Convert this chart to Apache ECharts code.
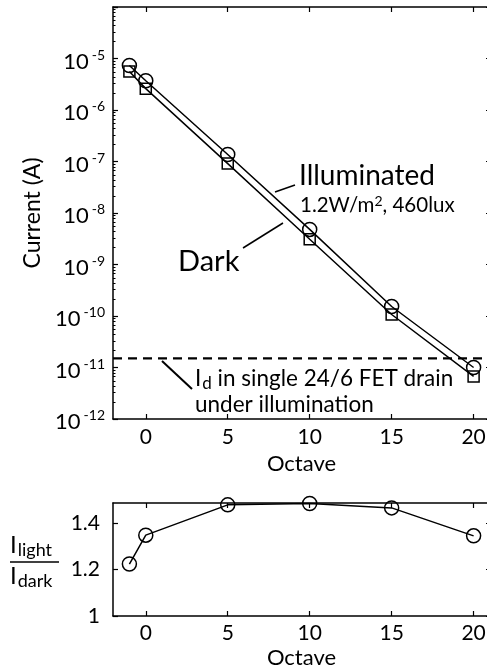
<!DOCTYPE html>
<html>
<head>
<meta charset="utf-8">
<script src="https://cdn.jsdelivr.net/npm/echarts@6/dist/echarts.min.js"></script>
<style>html,body{margin:0;padding:0;background:#fff}#c{width:487px;height:668px}</style>
</head>
<body>
<div id="c"></div>
<script>
const octave = [-1, 0, 5, 10, 15, 20];
const illuminated = [7.3e-6, 3.7e-6, 1.37e-7, 4.8e-9, 1.53e-10, 1.0e-11];
const dark = [5.6e-6, 2.6e-6, 9.1e-8, 3.1e-9, 1.07e-10, 6.7e-12];
const ratio = [1.223, 1.347, 1.477, 1.483, 1.464, 1.344];
const fetDrainOctave = [-2, 21];
const fetDrainLevel = [1.5e-11, 1.5e-11];
const xTicks = [0, 5, 10, 15, 20];
const ratioTicks = [1, 1.2, 1.4];

const FONT = 'Lato';
const chart = echarts.init(document.getElementById('c'), null, {renderer: 'canvas'});

const axisLineStyle = {color: '#000', width: 1.5};
const pair = (xs, ys) => xs.map((x, i) => [x, ys[i]]);

const xBase = {
  type: 'value', min: -2, max: 21,
  axisLine: {show: true, onZero: false, lineStyle: axisLineStyle},
  axisTick: {show: true, inside: true, length: 5, customValues: xTicks, lineStyle: {color: '#000', width: 1.2}},
  splitLine: {show: false}
};

const option = {
  animation: false,
  backgroundColor: '#fff',
  textStyle: {fontFamily: FONT},
  grid: [
    {left: 113, top: 7, width: 377, height: 412, show: false, containLabel: false, outerBoundsMode: 'none'},
    {left: 113, top: 503, width: 377, height: 113, show: false, containLabel: false, outerBoundsMode: 'none'}
  ],
  xAxis: [
    Object.assign({}, xBase, {gridIndex: 0, position: 'bottom', name: 'Octave', nameLocation: 'middle', nameGap: 30,
      nameTextStyle: {fontSize: 22, color: '#000', fontFamily: FONT},
      axisLabel: {customValues: xTicks, margin: 8, fontSize: 21, color: '#000', fontFamily: FONT}}),
    Object.assign({}, xBase, {gridIndex: 0, position: 'top', axisLabel: {show: false}}),
    Object.assign({}, xBase, {gridIndex: 1, position: 'bottom', name: 'Octave', nameLocation: 'middle', nameGap: 31,
      nameTextStyle: {fontSize: 22, color: '#000', fontFamily: FONT},
      axisLabel: {customValues: xTicks, margin: 7, fontSize: 21, color: '#000', fontFamily: FONT}}),
    Object.assign({}, xBase, {gridIndex: 1, position: 'top', axisLabel: {show: false}})
  ],
  yAxis: [
    {gridIndex: 0, type: 'log', logBase: 10, min: 1e-12, max: 1e-4, splitNumber: 8, position: 'left',
      name: 'Current (A)', nameLocation: 'middle', nameGap: 56, nameRotate: 90,
      nameTextStyle: {fontSize: 23, color: '#000', fontFamily: FONT},
      axisLine: {show: true, onZero: false, lineStyle: axisLineStyle},
      axisTick: {show: true, inside: true, length: 5, lineStyle: {color: '#000', width: 1.2}},
      minorTick: {show: true, splitNumber: 8, length: 2.5, lineStyle: {color: '#000', width: 1}},
      splitLine: {show: false},
      axisLabel: {
        margin: 8, color: '#000', showMaxLabel: false, padding: [6, 0, 0, 0],
        formatter: function (v) {
          const e = Math.round(Math.log10(v));
          if (e >= -4) return '';
          return '{b|10}{s|' + e + '}';
        },
        rich: {
          b: {fontSize: 22, fontFamily: FONT, color: '#000'},
          s: {fontSize: 14, fontFamily: FONT, color: '#000', padding: [0, 0, 13, 3]}
        }
      }},
    {gridIndex: 0, type: 'log', logBase: 10, min: 1e-12, max: 1e-4, splitNumber: 8, position: 'right',
      axisLine: {show: true, onZero: false, lineStyle: axisLineStyle},
      axisTick: {show: true, inside: true, length: 4, lineStyle: {color: '#000', width: 1.2}},
      axisLabel: {show: false}, splitLine: {show: false}},
    {gridIndex: 1, type: 'value', min: 1, max: 1.485, position: 'left',
      axisLine: {show: true, onZero: false, lineStyle: axisLineStyle},
      axisTick: {show: true, inside: true, length: 5, customValues: ratioTicks, lineStyle: {color: '#000', width: 1.2}},
      splitLine: {show: false},
      axisLabel: {customValues: ratioTicks, margin: 13, fontSize: 21, color: '#000', fontFamily: FONT,
        formatter: v => (Math.abs(v - 1) < 1e-9 ? '1' : v.toFixed(1))}},
    {gridIndex: 1, type: 'value', min: 1, max: 1.485, position: 'right',
      axisLine: {show: true, onZero: false, lineStyle: axisLineStyle},
      axisTick: {show: true, inside: true, length: 4, customValues: ratioTicks, lineStyle: {color: '#000', width: 1.2}},
      axisLabel: {show: false}, splitLine: {show: false}}
  ],
  series: [
    {type: 'line', name: 'FET drain', xAxisIndex: 0, yAxisIndex: 0, data: pair(fetDrainOctave, fetDrainLevel),
      symbol: 'none', silent: true, z: 1,
      lineStyle: {color: '#000', type: [9, 6], width: 2.2}},
    {type: 'line', name: 'Illuminated', xAxisIndex: 0, yAxisIndex: 0, data: pair(octave, illuminated),
      symbol: 'circle', symbolSize: 14, showAllSymbol: true,
      lineStyle: {color: '#000', width: 1.5},
      itemStyle: {color: 'rgba(0,0,0,0)', borderColor: '#000', borderWidth: 1.5}},
    {type: 'line', name: 'Dark', xAxisIndex: 0, yAxisIndex: 0, data: pair(octave, dark),
      symbol: 'rect', symbolSize: 11, showAllSymbol: true,
      lineStyle: {color: '#000', width: 1.5},
      itemStyle: {color: 'rgba(0,0,0,0)', borderColor: '#000', borderWidth: 1.5}},
    {type: 'line', name: 'ratio', xAxisIndex: 2, yAxisIndex: 2, data: pair(octave, ratio),
      symbol: 'circle', symbolSize: 14, showAllSymbol: true,
      lineStyle: {color: '#000', width: 1.5},
      itemStyle: {color: 'rgba(0,0,0,0)', borderColor: '#000', borderWidth: 1.5}}
  ],
  graphic: [
    {type: 'text', left: 299, top: 162, style: {text: 'Illuminated', font: '28px ' + FONT, fill: '#000'}},
    {type: 'text', left: 300, top: 194, style: {
      text: '{a|1.2W/m}{s|2}{a|, 460lux}', fill: '#000',
      rich: {a: {fontSize: 20.5, fontFamily: FONT, color: '#000'}, s: {fontSize: 14, fontFamily: FONT, color: '#000', padding: [0, 0, 9, 0]}}}},
    {type: 'line', shape: {x1: 275, y1: 192, x2: 295, y2: 185}, style: {stroke: '#000', lineWidth: 1.5}},
    {type: 'text', left: 178, top: 247, style: {text: 'Dark', font: '29px ' + FONT, fill: '#000'}},
    {type: 'line', shape: {x1: 243, y1: 248, x2: 283, y2: 223}, style: {stroke: '#000', lineWidth: 1.5}},
    {type: 'line', shape: {x1: 162, y1: 361, x2: 192, y2: 389}, style: {stroke: '#000', lineWidth: 2}},
    {type: 'text', left: 195, top: 367, style: {
      text: '{a|I}{s|d}{a| in single 24/6 FET drain}', fill: '#000',
      rich: {a: {fontSize: 22.5, fontFamily: FONT, color: '#000'}, s: {fontSize: 17, fontFamily: FONT, color: '#000', padding: [10, 0, 0, 1]}}}},
    {type: 'text', left: 195, top: 393, style: {text: 'under illumination', font: '22.5px ' + FONT, fill: '#000'}},
    {type: 'text', left: 10, top: 533, style: {
      text: '{a|I}{s|light}', rich: {a: {fontSize: 24, fontFamily: FONT, color: '#000'}, s: {fontSize: 18, fontFamily: FONT, color: '#000', padding: [11, 0, 0, 1]}}}},
    {type: 'line', shape: {x1: 10, y1: 562, x2: 59, y2: 562}, style: {stroke: '#000', lineWidth: 1.5}},
    {type: 'text', left: 10, top: 564, style: {
      text: '{a|I}{s|dark}', rich: {a: {fontSize: 24, fontFamily: FONT, color: '#000'}, s: {fontSize: 18, fontFamily: FONT, color: '#000', padding: [11, 0, 0, 1]}}}}
  ]
};
chart.setOption(option);
</script>
</body>
</html>
